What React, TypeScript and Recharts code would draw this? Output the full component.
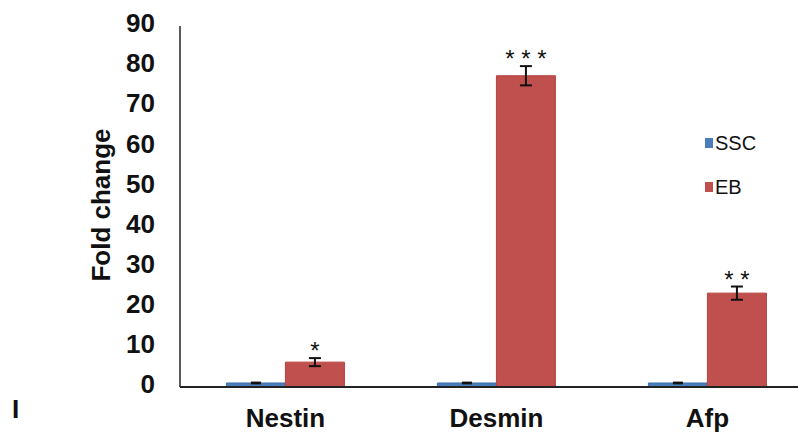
import React from 'react';
import { BarChart, Bar, XAxis, YAxis, ErrorBar, LabelList } from 'recharts';

const categories = ['Nestin', 'Desmin', 'Afp'];
const sscValues = [1, 1, 1];
const sscErrors = [0.1, 0.1, 0.1];
const ebValues = [6.2, 77.6, 23.4];
const ebErrors = [1.0, 2.4, 1.65];
const significance = ['*', '* * *', '* *'];
const yTicks = [0, 10, 20, 30, 40, 50, 60, 70, 80, 90];
const seriesNames = ['SSC', 'EB'];
const seriesColors = ['#4A7EBB', '#C0504D'];

const data = categories.map((c, i) => ({
  name: c,
  SSC: sscValues[i],
  sscErr: sscErrors[i],
  EB: ebValues[i],
  ebErr: ebErrors[i],
  sig: significance[i],
}));

const FONT = 'Arial, "Liberation Sans", Helvetica, sans-serif';

const SigLabel = (props: any) => {
  const { x, y, width, height, index } = props;
  const v = ebValues[index];
  const pxPerUnit = height / v;
  const errTop = y - ebErrors[index] * pxPerUnit;
  return (
    <text
      x={x + width / 2}
      y={errTop + 1}
      textAnchor="middle"
      fontFamily={FONT}
      fontSize={24}
      fill="#111"
    >
      {significance[index]}
    </text>
  );
};

export default function App() {
  return (
    <div style={{ position: 'absolute', left: 0, top: 0, width: 798, height: 437, overflow: 'hidden', background: '#fff' }}>
      <BarChart
        width={830}
        height={437}
        data={data}
        margin={{ top: 26, right: 17, bottom: 0, left: 0 }}
        barCategoryGap="22%"
        barGap={0}
      >
        <XAxis
          dataKey="name"
          height={50}
          tickLine={false}
          tickSize={0}
          tickMargin={22}
          axisLine={{ stroke: '#222', strokeWidth: 2 }}
          tick={{ fontFamily: FONT, fontSize: 26, fontWeight: 'bold', fill: '#111' }}
        />
        <YAxis
          width={180}
          domain={[0, 90]}
          ticks={yTicks}
          interval={0}
          tickLine={false}
          tickSize={0}
          tickMargin={25}
          axisLine={{ stroke: '#222', strokeWidth: 1.5 }}
          tick={{ fontFamily: FONT, fontSize: 26, fontWeight: 'bold', fill: '#111', dy: -3 }}
          label={{
            content: () => (
              <text
                x={101}
                y={205}
                transform="rotate(-90 101 205)"
                textAnchor="middle"
                dominantBaseline="central"
                fontFamily={FONT}
                fontSize={26}
                fontWeight="bold"
                fill="#111"
              >
                Fold change
              </text>
            ),
          }}
        />
        <Bar dataKey="SSC" fill={seriesColors[0]} stroke="#3D6FAE" strokeWidth={1} isAnimationActive={false}>
          <ErrorBar dataKey="sscErr" width={5} stroke="#111" strokeWidth={2} />
        </Bar>
        <Bar dataKey="EB" fill={seriesColors[1]} stroke="#B4423F" strokeWidth={1} isAnimationActive={false}>
          <ErrorBar dataKey="ebErr" width={6} stroke="#111" strokeWidth={2} />
          <LabelList dataKey="sig" content={<SigLabel />} />
        </Bar>
      </BarChart>
      <div style={{ position: 'absolute', left: 705, top: 131, fontFamily: FONT, fontSize: 20, color: '#111' }}>
        {seriesNames.map((n, i) => (
          <div key={n} style={{ display: 'flex', alignItems: 'center', height: 24, marginBottom: 20 }}>
            <div style={{ width: 8, height: 10, background: seriesColors[i], marginRight: 2 }} />
            <span>{n}</span>
          </div>
        ))}
      </div>
      <div style={{ position: 'absolute', left: 12, top: 396, fontFamily: FONT, fontSize: 26, fontWeight: 'bold', color: '#111', lineHeight: '26px' }}>
        I
      </div>
    </div>
  );
}
